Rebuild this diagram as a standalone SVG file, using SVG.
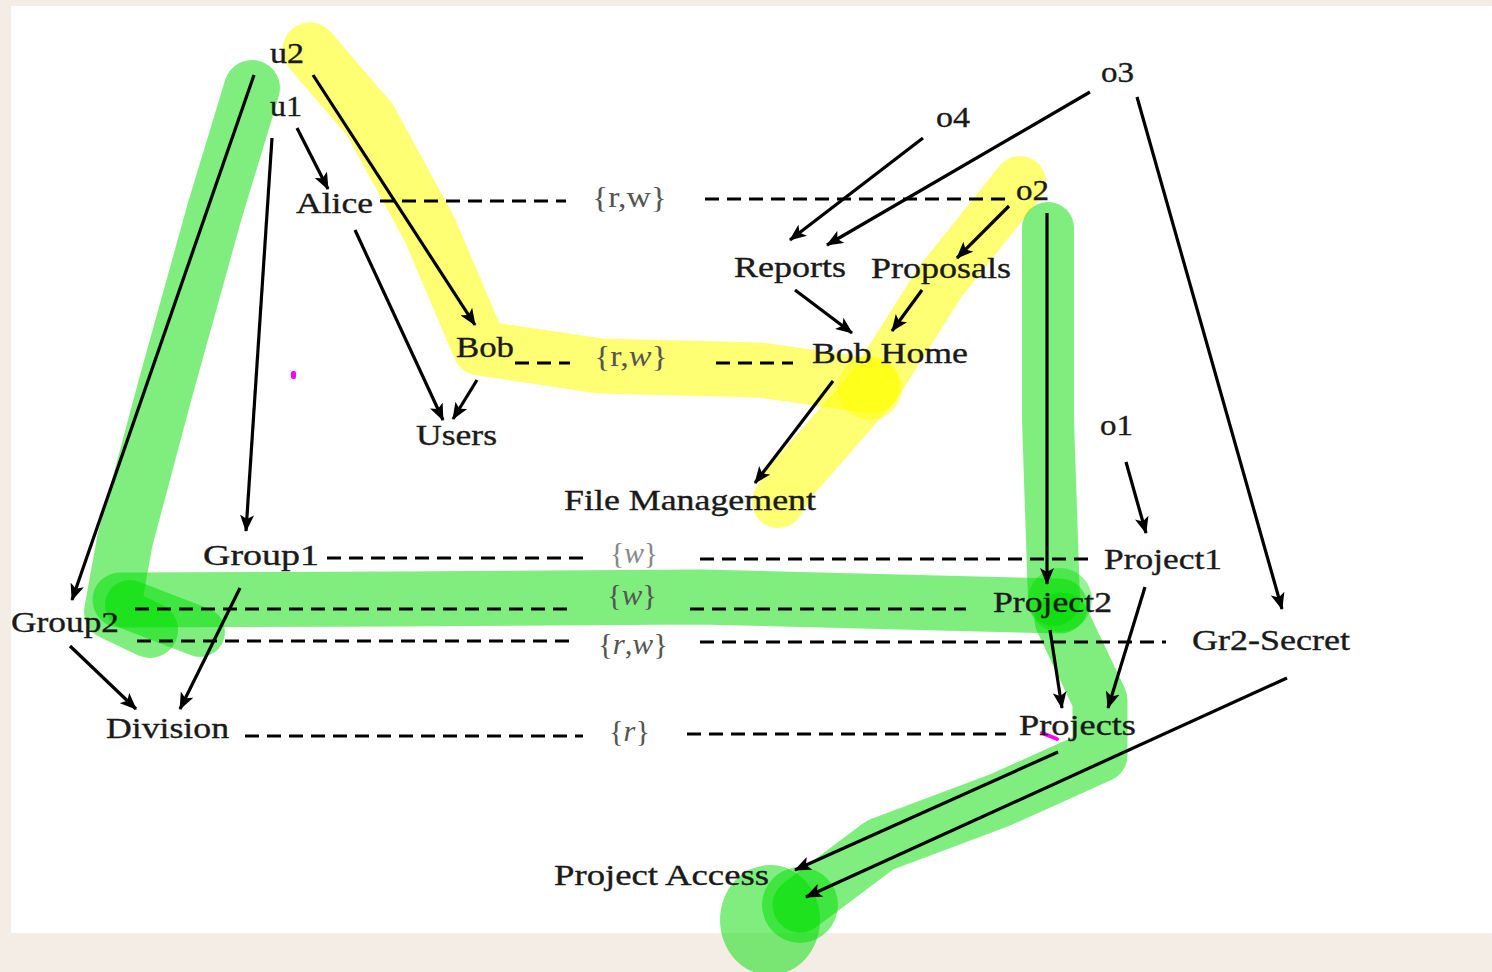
<svg xmlns="http://www.w3.org/2000/svg" width="1492" height="972" viewBox="0 0 1492 972">
<defs>
<marker id="ah" markerUnits="userSpaceOnUse" markerWidth="18" markerHeight="14" refX="16" refY="7" orient="auto">
<path d="M0,0 L17,7 L0,14 L4,7 z" fill="#000"/>
</marker>
<style>
.lbl{font-family:"Liberation Serif","Times New Roman",serif;font-size:29px;fill:#1a1a1a;stroke:#1a1a1a;stroke-width:0.35}
.set{font-family:"Liberation Serif","Times New Roman",serif;font-size:29px;fill:#555}
.arr{stroke:#000;stroke-width:3.2;fill:none;marker-end:url(#ah)}
.dash{stroke:#000;stroke-width:3;stroke-dasharray:14 8;fill:none}
.g{stroke:#00dd00;stroke-opacity:0.5;fill:none;stroke-linecap:round;stroke-linejoin:round}
.y{stroke:#ffff00;stroke-opacity:0.55;fill:none;stroke-linecap:round;stroke-linejoin:round}
</style>
</defs>
<rect x="0" y="0" width="1492" height="972" fill="#f3ede5"/>
<rect x="11" y="6" width="1481" height="927" fill="#ffffff"/>

<g id="highlights">
<path class="y" stroke-width="55" d="M310 50 L370 120 L430 230 L480 348 L600 366 L760 370 L872 386"/>
<path class="y" stroke-width="52" d="M1020 182 L940 282 L875 385 L790 482 L778 502"/>
<circle cx="870" cy="388" r="32" fill="#ffff00" fill-opacity="0.45"/>
<path class="g" stroke-width="56" d="M252 88 L215 210 L165 390 L125 540 L112 612 L150 630"/>
<path class="g" stroke-width="55" d="M120 600 L400 599 L700 597 L1060 606"/>
<path class="g" stroke-width="50" d="M130 605 L200 632"/>
<path class="g" stroke-width="52" d="M1048 228 L1048 420 L1054 600"/>
<path class="g" stroke-width="55" d="M1062 620 L1100 700 L1100 755 L1000 800 L880 845 L800 905"/>
<circle cx="1060" cy="600" r="32" fill="#00dd00" fill-opacity="0.4"/>
<circle cx="800" cy="905" r="38" fill="#00dd00" fill-opacity="0.5"/>
<ellipse cx="770" cy="920" rx="50" ry="55" fill="#00dd00" fill-opacity="0.5"/>
</g>

<g id="connectors">
<g id="dashed">
<line class="dash" x1="380" y1="201" x2="566" y2="201"/>
<line class="dash" x1="705" y1="199" x2="1010" y2="199"/>
<line class="dash" x1="515" y1="363" x2="570" y2="363"/>
<line class="dash" x1="716" y1="363" x2="793" y2="363"/>
<line class="dash" x1="327" y1="558" x2="586" y2="558"/>
<line class="dash" x1="700" y1="559" x2="1090" y2="559"/>
<line class="dash" x1="135" y1="609" x2="572" y2="609"/>
<line class="dash" x1="690" y1="609" x2="966" y2="609"/>
<line class="dash" x1="137" y1="641" x2="572" y2="641"/>
<line class="dash" x1="700" y1="642" x2="1166" y2="642"/>
<line class="dash" x1="245" y1="736" x2="583" y2="736"/>
<line class="dash" x1="687" y1="734" x2="1006" y2="734"/>
</g>
<g id="arrows">
<line class="arr" x1="254" y1="75" x2="72" y2="600"/>
<line class="arr" x1="313" y1="75" x2="475" y2="325"/>
<line class="arr" x1="297" y1="128" x2="328" y2="189"/>
<line class="arr" x1="272" y1="138" x2="246" y2="531"/>
<line class="arr" x1="355" y1="230" x2="443" y2="420"/>
<line class="arr" x1="477" y1="380" x2="453" y2="419"/>
<line class="arr" x1="923" y1="138" x2="790" y2="240"/>
<line class="arr" x1="1090" y1="92" x2="827" y2="245"/>
<line class="arr" x1="1137" y1="97" x2="1282" y2="609"/>
<line class="arr" x1="1009" y1="206" x2="957" y2="258"/>
<line class="arr" x1="1047" y1="213" x2="1047" y2="584"/>
<line class="arr" x1="795" y1="290" x2="852" y2="333"/>
<line class="arr" x1="922" y1="290" x2="892" y2="331"/>
<line class="arr" x1="833" y1="381" x2="755" y2="483"/>
<line class="arr" x1="1126" y1="462" x2="1146" y2="533"/>
<line class="arr" x1="240" y1="588" x2="180" y2="709"/>
<line class="arr" x1="70" y1="646" x2="136" y2="709"/>
<line class="arr" x1="1050" y1="630" x2="1062" y2="708"/>
<line class="arr" x1="1145" y1="587" x2="1108" y2="708"/>
<line class="arr" x1="1058" y1="752" x2="795" y2="870"/>
<line class="arr" x1="1287" y1="678" x2="806" y2="897"/>
</g>
</g>

<g id="marks">
<rect x="291" y="371" width="5" height="8" rx="2" fill="#ff00ff"/>
<line x1="1042" y1="733" x2="1057" y2="739" stroke="#ff00ff" stroke-width="4" stroke-linecap="round"/>
</g>

<g id="n-u2"><text class="lbl" x="270" y="63" textLength="34" lengthAdjust="spacingAndGlyphs">u2</text></g>
<g id="n-u1"><text class="lbl" x="270" y="116" textLength="32" lengthAdjust="spacingAndGlyphs">u1</text></g>
<g id="n-alice"><text class="lbl" x="296" y="213" textLength="77" lengthAdjust="spacingAndGlyphs">Alice</text></g>
<g id="n-o4"><text class="lbl" x="936" y="127" textLength="34" lengthAdjust="spacingAndGlyphs">o4</text></g>
<g id="n-o3"><text class="lbl" x="1101" y="82" textLength="33" lengthAdjust="spacingAndGlyphs">o3</text></g>
<g id="n-o2"><text class="lbl" x="1016" y="200" textLength="33" lengthAdjust="spacingAndGlyphs">o2</text></g>
<g id="n-reports"><text class="lbl" x="734" y="277" textLength="112" lengthAdjust="spacingAndGlyphs">Reports</text></g>
<g id="n-proposals"><text class="lbl" x="871" y="278" textLength="140" lengthAdjust="spacingAndGlyphs">Proposals</text></g>
<g id="n-bob"><text class="lbl" x="456" y="357" textLength="58" lengthAdjust="spacingAndGlyphs">Bob</text></g>
<g id="n-bobhome"><text class="lbl" x="812" y="363" textLength="156" lengthAdjust="spacingAndGlyphs">Bob Home</text></g>
<g id="n-users"><text class="lbl" x="416" y="445" textLength="81" lengthAdjust="spacingAndGlyphs">Users</text></g>
<g id="n-o1"><text class="lbl" x="1100" y="435" textLength="33" lengthAdjust="spacingAndGlyphs">o1</text></g>
<g id="n-filemgmt"><text class="lbl" x="564" y="510" textLength="252" lengthAdjust="spacingAndGlyphs">File Management</text></g>
<g id="n-group1"><text class="lbl" x="203" y="565" textLength="116" lengthAdjust="spacingAndGlyphs">Group1</text></g>
<g id="n-project1"><text class="lbl" x="1104" y="569" textLength="118" lengthAdjust="spacingAndGlyphs">Project1</text></g>
<g id="n-project2"><text class="lbl" x="993" y="612" textLength="119" lengthAdjust="spacingAndGlyphs">Project2</text></g>
<g id="n-group2"><text class="lbl" x="11" y="632" textLength="108" lengthAdjust="spacingAndGlyphs">Group2</text></g>
<g id="n-gr2secret"><text class="lbl" x="1192" y="650" textLength="158" lengthAdjust="spacingAndGlyphs">Gr2-Secret</text></g>
<g id="n-division"><text class="lbl" x="106" y="738" textLength="123" lengthAdjust="spacingAndGlyphs">Division</text></g>
<g id="n-projects"><text class="lbl" x="1019" y="735" textLength="117" lengthAdjust="spacingAndGlyphs">Projects</text></g>
<g id="n-projectaccess"><text class="lbl" x="554" y="885" textLength="215" lengthAdjust="spacingAndGlyphs">Project Access</text></g>

<g id="edge-labels">
<text class="set" x="592" y="207" textLength="75" lengthAdjust="spacingAndGlyphs">{r,w}</text>
<text class="set" x="594" y="366" textLength="74" lengthAdjust="spacingAndGlyphs">{r,<tspan font-style="italic">w</tspan>}</text>
<text class="set" x="610" y="563" textLength="48" lengthAdjust="spacingAndGlyphs" style="fill:#888">{<tspan font-style="italic">w</tspan>}</text>
<text class="set" x="607" y="605" textLength="50" lengthAdjust="spacingAndGlyphs">{<tspan font-style="italic">w</tspan>}</text>
<text class="set" x="598" y="654" textLength="70" lengthAdjust="spacingAndGlyphs">{<tspan font-style="italic">r</tspan>,<tspan font-style="italic">w</tspan>}</text>
<text class="set" x="609" y="741" textLength="41" lengthAdjust="spacingAndGlyphs">{<tspan font-style="italic">r</tspan>}</text>
</g>
</svg>
